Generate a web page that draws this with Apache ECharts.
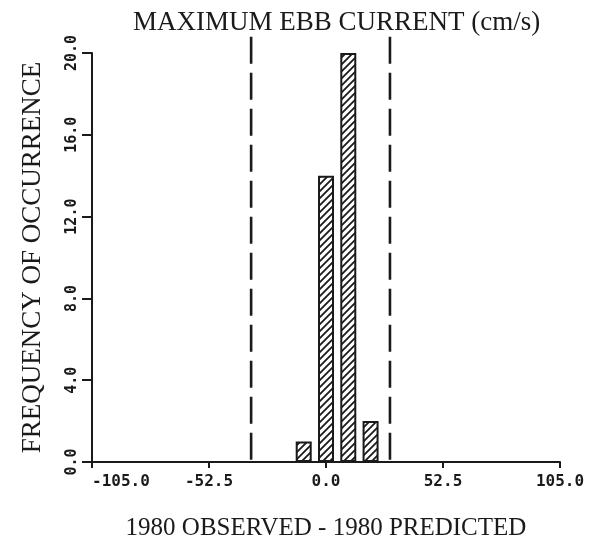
<!DOCTYPE html>
<html>
<head>
<meta charset="utf-8">
<title>Maximum ebb current</title>
<script src="https://cdn.jsdelivr.net/npm/echarts@6/dist/echarts.min.js"></script>
<style>
  html, body { margin: 0; padding: 0; background: #fff; }
  #chart { width: 601px; height: 541px; }
</style>
</head>
<body>
<div id="chart"></div>
<script>
// histogram bins (centre of bin, cm/s) and counts
const binCentres = [-10, 0, 10, 20];
const counts = [1, 14, 20, 2];
// dashed limit lines (cm/s)
const limits = [-33.6, 28.7];
const xTicks = [-105, -52.5, 0, 52.5, 105];
const yTicks = [0, 4, 8, 12, 16, 20];

const ink = '#1a1a1a';
const serif = '"Liberation Serif", "Times New Roman", serif';
const plotter = '"DejaVu Sans Mono", monospace';

// diagonal hatch tile for the bars
function hatchTile() {
  const s = 7;
  const c = document.createElement('canvas');
  c.width = s;
  c.height = s;
  const ctx = c.getContext('2d');
  ctx.fillStyle = '#fff';
  ctx.fillRect(0, 0, s, s);
  ctx.strokeStyle = ink;
  ctx.lineWidth = 1.8;
  ctx.beginPath();
  ctx.moveTo(0, s); ctx.lineTo(s, 0);
  ctx.moveTo(-s / 4, s / 4); ctx.lineTo(s / 4, -s / 4);
  ctx.moveTo(s * 3 / 4, s * 5 / 4); ctx.lineTo(s * 5 / 4, s * 3 / 4);
  ctx.stroke();
  return c;
}

const chart = echarts.init(document.getElementById('chart'), null, { renderer: 'canvas' });

const limitSeries = limits.map(x => ({
  type: 'line',
  data: [[x, 20.8], [x, 0]],
  symbol: 'none',
  clip: false,
  silent: true,
  lineStyle: { color: ink, width: 2.6, type: [27, 9] },
  z: 3
}));

chart.setOption({
  animation: false,
  backgroundColor: '#fff',
  title: {
    text: 'MAXIMUM EBB CURRENT (cm/s)',
    left: 128,
    top: 4,
    textStyle: { fontFamily: serif, fontWeight: 'normal', fontSize: 27, color: ink }
  },
  grid: { left: 92, right: 41, top: 53, bottom: 79, outerBoundsMode: 'none' },
  xAxis: {
    type: 'value',
    min: xTicks[0],
    max: xTicks[xTicks.length - 1],
    interval: 52.5,
    name: '1980 OBSERVED - 1980 PREDICTED',
    nameLocation: 'middle',
    nameGap: 54,
    nameTextStyle: { fontFamily: serif, fontSize: 25, color: ink },
    axisLine: { onZero: false, lineStyle: { color: ink, width: 2 } },
    axisTick: { length: 6, lineStyle: { color: ink, width: 2 } },
    axisLabel: {
      margin: 12,
      fontFamily: plotter,
      fontWeight: 'bold',
      fontSize: 16,
      color: ink,
      alignMinLabel: 'left',
      formatter: v => v.toFixed(1)
    },
    splitLine: { show: false }
  },
  yAxis: {
    type: 'value',
    min: yTicks[0],
    max: yTicks[yTicks.length - 1],
    interval: 4,
    name: 'FREQUENCY OF OCCURRENCE',
    nameLocation: 'middle',
    nameGap: 46,
    nameTextStyle: { fontFamily: serif, fontSize: 27, color: ink },
    axisLine: { show: true, onZero: false, lineStyle: { color: ink, width: 2 } },
    axisTick: { show: true, length: 10, lineStyle: { color: ink, width: 2 } },
    axisLabel: {
      rotate: 90,
      margin: 12,
      fontFamily: plotter,
      fontWeight: 'bold',
      fontSize: 15,
      color: ink,
      formatter: v => v.toFixed(1)
    },
    splitLine: { show: false }
  },
  series: [
    {
      type: 'bar',
      data: binCentres.map((x, i) => [x, counts[i]]),
      barWidth: 16,
      itemStyle: {
        color: { image: hatchTile(), repeat: 'repeat' },
        borderColor: ink,
        borderWidth: 2
      },
      z: 2
    }
  ].concat(limitSeries)
});
</script>
</body>
</html>
